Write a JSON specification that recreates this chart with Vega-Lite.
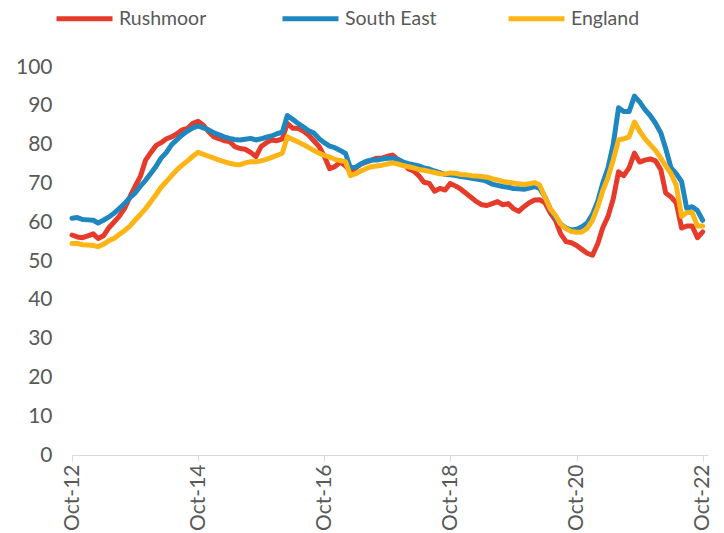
{
  "$schema": "https://vega.github.io/schema/vega-lite/v6.json",
  "width": 636,
  "height": 388,
  "autosize": "none",
  "padding": {"left": 72, "top": 67, "right": 16, "bottom": 78},
  "background": "white",
  "config": {"view": {"stroke": null}, "font": "Lato"},
  "data": {"values": [
    {"date": "2012-10-01", "Rushmoor": 56.7, "South East": 61, "England": 54.5},
    {"date": "2012-11-01", "Rushmoor": 56.2, "South East": 61.2, "England": 54.5},
    {"date": "2012-12-01", "Rushmoor": 56, "South East": 60.7, "England": 54.2},
    {"date": "2013-01-01", "Rushmoor": 56.5, "South East": 60.6, "England": 54.1},
    {"date": "2013-02-01", "Rushmoor": 57, "South East": 60.5, "England": 54},
    {"date": "2013-03-01", "Rushmoor": 55.8, "South East": 59.8, "England": 53.7},
    {"date": "2013-04-01", "Rushmoor": 56.5, "South East": 60.5, "England": 54.3},
    {"date": "2013-05-01", "Rushmoor": 58.5, "South East": 61.3, "England": 55.2},
    {"date": "2013-06-01", "Rushmoor": 60, "South East": 62.3, "England": 55.8},
    {"date": "2013-07-01", "Rushmoor": 61.5, "South East": 63.5, "England": 56.8},
    {"date": "2013-08-01", "Rushmoor": 63.5, "South East": 64.8, "England": 57.8},
    {"date": "2013-09-01", "Rushmoor": 66.5, "South East": 66.3, "England": 59},
    {"date": "2013-10-01", "Rushmoor": 69.2, "South East": 67.5, "England": 60.5},
    {"date": "2013-11-01", "Rushmoor": 71.8, "South East": 69.3, "England": 62},
    {"date": "2013-12-01", "Rushmoor": 76, "South East": 70.8, "England": 63.5},
    {"date": "2014-01-01", "Rushmoor": 78, "South East": 72.6, "England": 65.3},
    {"date": "2014-02-01", "Rushmoor": 79.8, "South East": 74.5, "England": 67.2},
    {"date": "2014-03-01", "Rushmoor": 80.5, "South East": 76.5, "England": 69},
    {"date": "2014-04-01", "Rushmoor": 81.5, "South East": 78, "England": 70.5},
    {"date": "2014-05-01", "Rushmoor": 82, "South East": 80, "England": 72},
    {"date": "2014-06-01", "Rushmoor": 82.8, "South East": 81.3, "England": 73.5},
    {"date": "2014-07-01", "Rushmoor": 83.8, "South East": 82.5, "England": 74.7},
    {"date": "2014-08-01", "Rushmoor": 84.2, "South East": 83.5, "England": 75.8},
    {"date": "2014-09-01", "Rushmoor": 85.5, "South East": 84.3, "England": 77},
    {"date": "2014-10-01", "Rushmoor": 86, "South East": 84.8, "England": 78},
    {"date": "2014-11-01", "Rushmoor": 85, "South East": 84.3, "England": 77.5},
    {"date": "2014-12-01", "Rushmoor": 83.3, "South East": 83.8, "England": 77},
    {"date": "2015-01-01", "Rushmoor": 82, "South East": 83, "England": 76.5},
    {"date": "2015-02-01", "Rushmoor": 81.5, "South East": 82.5, "England": 76},
    {"date": "2015-03-01", "Rushmoor": 81, "South East": 82, "England": 75.6},
    {"date": "2015-04-01", "Rushmoor": 80.8, "South East": 81.6, "England": 75.2},
    {"date": "2015-05-01", "Rushmoor": 79.5, "South East": 81.3, "England": 74.9},
    {"date": "2015-06-01", "Rushmoor": 79, "South East": 81.2, "England": 74.8},
    {"date": "2015-07-01", "Rushmoor": 78.8, "South East": 81.4, "England": 75.3},
    {"date": "2015-08-01", "Rushmoor": 78, "South East": 81.6, "England": 75.6},
    {"date": "2015-09-01", "Rushmoor": 76.9, "South East": 81.2, "England": 75.6},
    {"date": "2015-10-01", "Rushmoor": 79.5, "South East": 81.5, "England": 75.8},
    {"date": "2015-11-01", "Rushmoor": 80.5, "South East": 81.9, "England": 76.2},
    {"date": "2015-12-01", "Rushmoor": 81.2, "South East": 82.2, "England": 76.7},
    {"date": "2016-01-01", "Rushmoor": 81, "South East": 82.8, "England": 77.2},
    {"date": "2016-02-01", "Rushmoor": 81.5, "South East": 83.2, "England": 77.8},
    {"date": "2016-03-01", "Rushmoor": 85.5, "South East": 87.5, "England": 82},
    {"date": "2016-04-01", "Rushmoor": 84.2, "South East": 86.5, "England": 81.3},
    {"date": "2016-05-01", "Rushmoor": 84.2, "South East": 85.5, "England": 80.7},
    {"date": "2016-06-01", "Rushmoor": 83.5, "South East": 84.6, "England": 80},
    {"date": "2016-07-01", "Rushmoor": 82.5, "South East": 83.6, "England": 79.3},
    {"date": "2016-08-01", "Rushmoor": 81, "South East": 83, "England": 78.5},
    {"date": "2016-09-01", "Rushmoor": 79.5, "South East": 81.5, "England": 77.8},
    {"date": "2016-10-01", "Rushmoor": 77, "South East": 80.5, "England": 77.2},
    {"date": "2016-11-01", "Rushmoor": 73.8, "South East": 79.6, "England": 76.8},
    {"date": "2016-12-01", "Rushmoor": 74.3, "South East": 79.2, "England": 76.2},
    {"date": "2017-01-01", "Rushmoor": 75.5, "South East": 78.5, "England": 75.9},
    {"date": "2017-02-01", "Rushmoor": 74.5, "South East": 77.7, "England": 75.6},
    {"date": "2017-03-01", "Rushmoor": 73, "South East": 74, "England": 72},
    {"date": "2017-04-01", "Rushmoor": 74, "South East": 74.2, "England": 72.5},
    {"date": "2017-05-01", "Rushmoor": 75, "South East": 75, "England": 73.2},
    {"date": "2017-06-01", "Rushmoor": 75.5, "South East": 75.7, "England": 73.8},
    {"date": "2017-07-01", "Rushmoor": 76, "South East": 76, "England": 74.3},
    {"date": "2017-08-01", "Rushmoor": 76.5, "South East": 76, "England": 74.5},
    {"date": "2017-09-01", "Rushmoor": 76.5, "South East": 76.3, "England": 74.7},
    {"date": "2017-10-01", "Rushmoor": 77, "South East": 76.5, "England": 75},
    {"date": "2017-11-01", "Rushmoor": 77.3, "South East": 76.5, "England": 75.3},
    {"date": "2017-12-01", "Rushmoor": 76.2, "South East": 76.2, "England": 75},
    {"date": "2018-01-01", "Rushmoor": 75.2, "South East": 75.5, "England": 74.6},
    {"date": "2018-02-01", "Rushmoor": 73.7, "South East": 75.1, "England": 74.3},
    {"date": "2018-03-01", "Rushmoor": 73.2, "South East": 74.8, "England": 74},
    {"date": "2018-04-01", "Rushmoor": 72, "South East": 74.5, "England": 73.6},
    {"date": "2018-05-01", "Rushmoor": 70.3, "South East": 74, "England": 73.4},
    {"date": "2018-06-01", "Rushmoor": 70, "South East": 73.7, "England": 73.1},
    {"date": "2018-07-01", "Rushmoor": 68, "South East": 73.2, "England": 72.8},
    {"date": "2018-08-01", "Rushmoor": 68.7, "South East": 72.8, "England": 72.5},
    {"date": "2018-09-01", "Rushmoor": 68.3, "South East": 72.3, "England": 72.4},
    {"date": "2018-10-01", "Rushmoor": 70, "South East": 72.2, "England": 72.7},
    {"date": "2018-11-01", "Rushmoor": 69.3, "South East": 72, "England": 72.6},
    {"date": "2018-12-01", "Rushmoor": 68.5, "South East": 71.8, "England": 72.3},
    {"date": "2019-01-01", "Rushmoor": 67.4, "South East": 71.6, "England": 72.2},
    {"date": "2019-02-01", "Rushmoor": 66.3, "South East": 71.3, "England": 72},
    {"date": "2019-03-01", "Rushmoor": 65.3, "South East": 71.1, "England": 71.9},
    {"date": "2019-04-01", "Rushmoor": 64.5, "South East": 70.9, "England": 71.8},
    {"date": "2019-05-01", "Rushmoor": 64.3, "South East": 70.5, "England": 71.6},
    {"date": "2019-06-01", "Rushmoor": 64.8, "South East": 69.8, "England": 71.2},
    {"date": "2019-07-01", "Rushmoor": 65.3, "South East": 69.5, "England": 70.9},
    {"date": "2019-08-01", "Rushmoor": 64.5, "South East": 69.2, "England": 70.5},
    {"date": "2019-09-01", "Rushmoor": 64.8, "South East": 69, "England": 70.3},
    {"date": "2019-10-01", "Rushmoor": 63.5, "South East": 68.7, "England": 70.1},
    {"date": "2019-11-01", "Rushmoor": 62.8, "South East": 68.6, "England": 69.9},
    {"date": "2019-12-01", "Rushmoor": 64, "South East": 68.5, "England": 69.7},
    {"date": "2020-01-01", "Rushmoor": 65, "South East": 68.8, "England": 69.9},
    {"date": "2020-02-01", "Rushmoor": 65.7, "South East": 69.2, "England": 70.2},
    {"date": "2020-03-01", "Rushmoor": 65.8, "South East": 68.7, "England": 69.6},
    {"date": "2020-04-01", "Rushmoor": 65, "South East": 66.5, "England": 66.5},
    {"date": "2020-05-01", "Rushmoor": 62.5, "South East": 63.5, "England": 63.5},
    {"date": "2020-06-01", "Rushmoor": 60.5, "South East": 61.3, "England": 61.8},
    {"date": "2020-07-01", "Rushmoor": 57, "South East": 59.5, "England": 59.5},
    {"date": "2020-08-01", "Rushmoor": 55, "South East": 58.5, "England": 58.3},
    {"date": "2020-09-01", "Rushmoor": 54.7, "South East": 58, "England": 57.6},
    {"date": "2020-10-01", "Rushmoor": 54, "South East": 58.2, "England": 57.4},
    {"date": "2020-11-01", "Rushmoor": 53, "South East": 58.8, "England": 57.5},
    {"date": "2020-12-01", "Rushmoor": 52, "South East": 59.8, "England": 58.4},
    {"date": "2021-01-01", "Rushmoor": 51.5, "South East": 62, "England": 60.5},
    {"date": "2021-02-01", "Rushmoor": 54.5, "South East": 65.5, "England": 64},
    {"date": "2021-03-01", "Rushmoor": 58.5, "South East": 70, "England": 68},
    {"date": "2021-04-01", "Rushmoor": 61.5, "South East": 74, "England": 71.5},
    {"date": "2021-05-01", "Rushmoor": 66, "South East": 80, "England": 76},
    {"date": "2021-06-01", "Rushmoor": 73, "South East": 89.5, "England": 81.2},
    {"date": "2021-07-01", "Rushmoor": 72, "South East": 88.5, "England": 81.5},
    {"date": "2021-08-01", "Rushmoor": 74, "South East": 88.5, "England": 82},
    {"date": "2021-09-01", "Rushmoor": 77.8, "South East": 92.5, "England": 85.8},
    {"date": "2021-10-01", "Rushmoor": 75.5, "South East": 91, "England": 83.5},
    {"date": "2021-11-01", "Rushmoor": 76, "South East": 89, "England": 81.5},
    {"date": "2021-12-01", "Rushmoor": 76.3, "South East": 87.5, "England": 80},
    {"date": "2022-01-01", "Rushmoor": 75.8, "South East": 85.5, "England": 78.5},
    {"date": "2022-02-01", "Rushmoor": 73.5, "South East": 83, "England": 76.5},
    {"date": "2022-03-01", "Rushmoor": 67.5, "South East": 79, "England": 74.5},
    {"date": "2022-04-01", "Rushmoor": 66.5, "South East": 74, "England": 72.5},
    {"date": "2022-05-01", "Rushmoor": 65, "South East": 72.5, "England": 69.5},
    {"date": "2022-06-01", "Rushmoor": 58.5, "South East": 70.5, "England": 61.5},
    {"date": "2022-07-01", "Rushmoor": 59, "South East": 63.5, "England": 62.5},
    {"date": "2022-08-01", "Rushmoor": 59, "South East": 64, "England": 62.5},
    {"date": "2022-09-01", "Rushmoor": 56, "South East": 63, "England": 59},
    {"date": "2022-10-01", "Rushmoor": 57.5, "South East": 60.5, "England": 59}
  ]},
  "transform": [{"fold": ["Rushmoor", "South East", "England"], "as": ["series", "value"]}],
  "mark": {"type": "line", "strokeWidth": 5, "strokeJoin": "round", "strokeCap": "round"},
  "encoding": {
    "x": {
      "field": "date",
      "type": "temporal",
      "scale": {"type": "utc", "domain": [{"year": 2012, "month": 10, "date": 1, "utc": true}, {"year": 2022, "month": 11, "date": 1, "utc": true}]},
      "axis": {
        "title": null,
        "grid": false,
        "values": [
          {"year": 2012, "month": 10, "date": 1, "utc": true},
          {"year": 2014, "month": 10, "date": 1, "utc": true},
          {"year": 2016, "month": 10, "date": 1, "utc": true},
          {"year": 2018, "month": 10, "date": 1, "utc": true},
          {"year": 2020, "month": 10, "date": 1, "utc": true},
          {"year": 2022, "month": 10, "date": 1, "utc": true}
        ],
        "labelExpr": "utcFormat(datum.value, '%b-%y')",
        "labelAngle": -90,
        "labelAlign": "right",
        "labelBaseline": "middle",
        "labelFontSize": 21,
        "labelColor": "#595959",
        "labelPadding": 3,
        "labelOverlap": false,
        "labelFlush": false,
        "domainColor": "#D9D9D9",
        "domainWidth": 1,
        "tickColor": "#D9D9D9",
        "tickSize": 6,
        "tickWidth": 1
      }
    },
    "y": {
      "field": "value",
      "type": "quantitative",
      "scale": {"domain": [0, 100], "nice": false},
      "axis": {
        "title": null,
        "grid": false,
        "domain": false,
        "ticks": false,
        "values": [0, 10, 20, 30, 40, 50, 60, 70, 80, 90, 100],
        "labelFontSize": 21,
        "labelColor": "#595959",
        "labelPadding": 20
      }
    },
    "color": {
      "field": "series",
      "type": "nominal",
      "scale": {"domain": ["Rushmoor", "South East", "England"], "range": ["#E63B2B", "#1F87C0", "#FDB515"]},
      "legend": {
        "title": null,
        "orient": "none",
        "legendX": -18,
        "legendY": -79,
        "direction": "horizontal",
        "columns": 3,
        "gridAlign": "all",
        "columnPadding": 61,
        "symbolType": "stroke",
        "symbolSize": 3136,
        "symbolStrokeWidth": 5,
        "labelFontSize": 19.5,
        "labelColor": "#595959",
        "labelOffset": 4
      }
    }
  }
}
